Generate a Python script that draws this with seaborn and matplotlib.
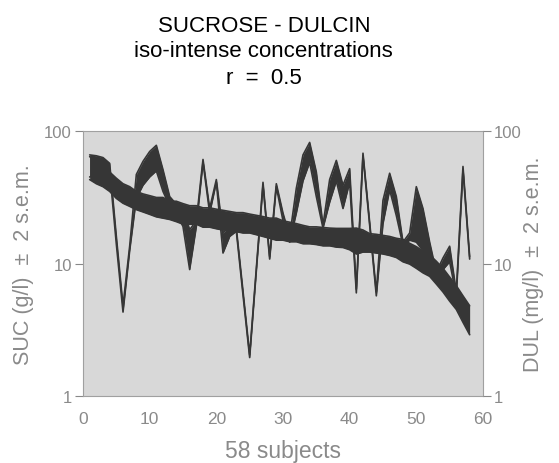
import numpy as np
import pandas as pd
import matplotlib
matplotlib.use("Agg")
import matplotlib.pyplot as plt
import seaborn as sns
from matplotlib.ticker import FixedLocator, NullLocator, MultipleLocator

# subject index (1..58), both series in iso-intense units, band = mean +/- 2 s.e.m.
subjects = list(range(1, 59))

suc_lo = [43, 40, 38, 35, 31, 28.5, 27, 25.5, 24.5, 23.5, 22.5, 22, 21.5, 20.7, 19.8, 19.8, 19.8, 18.8, 18.8, 18.3,
          17.9, 17.9, 17.4, 17, 17, 16.5, 16, 15.5, 15, 15, 14.6, 14.6, 14.1, 14.1, 13.9, 13.6, 13.6, 13.3, 13.2, 12.7,
          11.8, 12.2, 12.2, 12, 11.8, 11.5, 11.1, 10.3, 9.9, 9.2, 8.5, 8, 7, 6.1, 5.2, 4.5, 3.6, 2.9]
suc_hi = [64, 60, 55, 49, 44, 40, 38, 35, 33.5, 32.5, 31.5, 31.5, 29.5, 29.5, 28.3, 27.3, 27.3, 26.3, 26.3, 25.7,
          25.2, 24.7, 24.2, 24.2, 23.6, 23.1, 22.6, 22, 22, 21, 20.5, 20, 19.4, 18.9, 18.9, 18.7, 18.5, 18.4, 18.4, 18.4,
          18.5, 17.9, 16.8, 16.6, 16.3, 16, 15.5, 15.2, 14.2, 13.4, 12.4, 11.6, 10.4, 9.2, 7.9, 6.8, 5.7, 4.8]

dul_lo = [45, 47, 46, 50, 14, 4.3, 12.5, 31, 39, 45, 50, 35, 27, 24, 19, 9, 19, 58, 24, 41,
          12, 16, 17.5, 5.8, 1.95, 8.8, 39, 10.8, 38, 21, 14.5, 24, 42, 58, 32, 18.5, 29, 42, 26, 41,
          6.0, 65, 19.5, 5.7, 20, 36, 23, 13.7, 15, 14.5, 12.5, 9.8, 8.1, 9, 10.3, 5.7, 51, 10.8]
dul_hi = [66, 65, 63, 57, 16, 4.8, 13.5, 47, 59, 70, 78, 51, 32, 28, 26, 18, 21, 61, 26, 43,
          17, 19, 18.5, 6.2, 2.05, 9.2, 41, 11.3, 40, 24, 16, 37, 66, 82, 49, 19.5, 43, 60, 39, 52,
          6.4, 68, 20.5, 6.1, 30, 48, 32, 14.5, 17, 38, 26, 14.5, 8.6, 11, 13.5, 6.1, 54, 11.3]

title_lines = ["SUCROSE - DULCIN", "iso-intense concentrations", "r  =  0.5"]

sns.set_theme(style="white")
plt.rcParams['font.family'] = ['Liberation Sans', 'DejaVu Sans']

grey_txt = '#8a8a8a'
band = '#363636'

df = pd.DataFrame({'subject': subjects, 'suc_lo': suc_lo, 'suc_hi': suc_hi,
                   'dul_lo': dul_lo, 'dul_hi': dul_hi})

fig = plt.figure(figsize=(5.59, 4.64), dpi=100)
ax = fig.add_axes([0.1485, 0.1444, 0.7155, 0.5711])
ax.set_facecolor('#d8d8d8')

for lo, hi in [('suc_lo', 'suc_hi'), ('dul_lo', 'dul_hi')]:
    ax.fill_between(df['subject'], df[lo], df[hi], color=band, lw=0)
    sns.lineplot(data=df, x='subject', y=lo, ax=ax, color=band, lw=1.2)
    sns.lineplot(data=df, x='subject', y=hi, ax=ax, color=band, lw=1.2)

ax.set_yscale('log')
ax.set_ylim(1, 100)
ax.set_xlim(0, 60)
ax.yaxis.set_major_locator(FixedLocator([1, 10, 100]))
ax.yaxis.set_minor_locator(NullLocator())
ax.set_yticklabels(['1', '10', '100'])
ax.xaxis.set_major_locator(MultipleLocator(10))
ax.xaxis.set_minor_locator(MultipleLocator(1))

for s in ax.spines.values():
    s.set_color('#a0a0a0')
    s.set_linewidth(0.8)

ax.tick_params(axis='y', which='major', direction='out', length=6, width=0.8,
               color='#888888', labelcolor=grey_txt, labelsize=12, pad=2)
ax.tick_params(axis='x', which='major', direction='in', length=5, width=0.8,
               color='#888888', labelcolor=grey_txt, labelsize=12.5, pad=11)
ax.tick_params(axis='x', which='minor', direction='in', length=2.5, width=0.7, color='#888888')

ax2 = ax.twinx()
ax2.set_yscale('log')
ax2.set_ylim(1, 100)
ax2.yaxis.set_major_locator(FixedLocator([1, 10, 100]))
ax2.yaxis.set_minor_locator(NullLocator())
ax2.set_yticklabels(['1', '10', '100'])
ax2.tick_params(axis='y', which='major', direction='out', length=6, width=0.8,
                color='#888888', labelcolor=grey_txt, labelsize=12, pad=2)
for s in ax2.spines.values():
    s.set_visible(False)

ax.set_xlabel('58 subjects', fontsize=16.5, color=grey_txt, labelpad=9)
ax.set_ylabel('SUC (g/l)  \u00b1  2 s.e.m.', fontsize=15.5, color=grey_txt, labelpad=7)
ax2.set_ylabel('DUL (mg/l)  \u00b1  2 s.e.m.', fontsize=15.5, color=grey_txt, labelpad=1,
               rotation=90)

for i, line in enumerate(title_lines):
    fig.text(0.472, 1 - (26 + 26 * i) / 464, line, ha='center', va='center',
             fontsize=16, color='black')

fig.savefig('out.png', dpi=100)
